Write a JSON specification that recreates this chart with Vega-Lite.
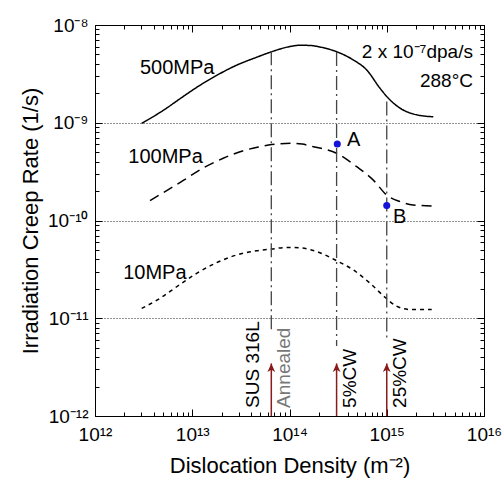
{
  "$schema": "https://vega.github.io/schema/vega-lite/v6.json",
  "width": 389,
  "height": 391,
  "autosize": {"type": "none"},
  "padding": {"left": 95, "top": 25, "right": 20, "bottom": 64},
  "config": {
    "font": "Liberation Sans",
    "view": {"stroke": "black", "strokeWidth": 1},
    "axis": {"domainColor": "black", "tickColor": "black", "labelColor": "black", "titleColor": "black", "labelFont": "Liberation Sans", "titleFont": "Liberation Sans", "titleFontWeight": "normal"}
  },
  "datasets": {
    "curves": [
      {"series": "500MPa", "x": 3.02e12, "y": 9.86e-10},
      {"series": "500MPa", "x": 5.04e12, "y": 1.34e-9},
      {"series": "500MPa", "x": 7.48e12, "y": 1.76e-9},
      {"series": "500MPa", "x": 1.11e13, "y": 2.30e-9},
      {"series": "500MPa", "x": 1.78e13, "y": 3.05e-9},
      {"series": "500MPa", "x": 2.86e13, "y": 3.88e-9},
      {"series": "500MPa", "x": 4.60e13, "y": 4.68e-9},
      {"series": "500MPa", "x": 6.56e13, "y": 5.33e-9},
      {"series": "500MPa", "x": 1.01e14, "y": 6.02e-9},
      {"series": "500MPa", "x": 1.28e14, "y": 6.20e-9},
      {"series": "500MPa", "x": 1.63e14, "y": 6.18e-9},
      {"series": "500MPa", "x": 2.06e14, "y": 5.95e-9},
      {"series": "500MPa", "x": 3.05e14, "y": 5.33e-9},
      {"series": "500MPa", "x": 4.53e14, "y": 4.39e-9},
      {"series": "500MPa", "x": 6.22e14, "y": 3.47e-9},
      {"series": "500MPa", "x": 8.53e14, "y": 2.25e-9},
      {"series": "500MPa", "x": 1.04e15, "y": 1.78e-9},
      {"series": "500MPa", "x": 1.37e15, "y": 1.41e-9},
      {"series": "500MPa", "x": 1.87e15, "y": 1.23e-9},
      {"series": "500MPa", "x": 3.01e15, "y": 1.15e-9},
      {"series": "100MPa", "x": 3.68e12, "y": 1.60e-10},
      {"series": "100MPa", "x": 5.46e12, "y": 2.02e-10},
      {"series": "100MPa", "x": 8.09e12, "y": 2.57e-10},
      {"series": "100MPa", "x": 1.30e13, "y": 3.45e-10},
      {"series": "100MPa", "x": 2.08e13, "y": 4.33e-10},
      {"series": "100MPa", "x": 3.35e13, "y": 5.18e-10},
      {"series": "100MPa", "x": 4.98e13, "y": 5.69e-10},
      {"series": "100MPa", "x": 6.56e13, "y": 6.00e-10},
      {"series": "100MPa", "x": 1.09e14, "y": 6.17e-10},
      {"series": "100MPa", "x": 1.35e14, "y": 6.05e-10},
      {"series": "100MPa", "x": 1.76e14, "y": 5.69e-10},
      {"series": "100MPa", "x": 3.05e14, "y": 4.88e-10},
      {"series": "100MPa", "x": 4.91e14, "y": 3.55e-10},
      {"series": "100MPa", "x": 7.28e14, "y": 2.59e-10},
      {"series": "100MPa", "x": 1.0e15, "y": 1.82e-10},
      {"series": "100MPa", "x": 1.37e15, "y": 1.56e-10},
      {"series": "100MPa", "x": 1.87e15, "y": 1.44e-10},
      {"series": "100MPa", "x": 3.01e15, "y": 1.41e-10},
      {"series": "10MPa", "x": 3.02e12, "y": 1.26e-11},
      {"series": "10MPa", "x": 4.66e12, "y": 1.60e-11},
      {"series": "10MPa", "x": 6.92e12, "y": 2.10e-11},
      {"series": "10MPa", "x": 1.11e13, "y": 2.88e-11},
      {"series": "10MPa", "x": 1.78e13, "y": 3.70e-11},
      {"series": "10MPa", "x": 2.86e13, "y": 4.44e-11},
      {"series": "10MPa", "x": 4.60e13, "y": 4.91e-11},
      {"series": "10MPa", "x": 6.56e13, "y": 5.11e-11},
      {"series": "10MPa", "x": 9.35e13, "y": 5.30e-11},
      {"series": "10MPa", "x": 1.28e14, "y": 5.25e-11},
      {"series": "10MPa", "x": 1.91e14, "y": 4.80e-11},
      {"series": "10MPa", "x": 3.05e14, "y": 3.88e-11},
      {"series": "10MPa", "x": 4.53e14, "y": 3.12e-11},
      {"series": "10MPa", "x": 6.73e14, "y": 2.28e-11},
      {"series": "10MPa", "x": 9.59e14, "y": 1.64e-11},
      {"series": "10MPa", "x": 1.26e15, "y": 1.33e-11},
      {"series": "10MPa", "x": 1.73e15, "y": 1.23e-11},
      {"series": "10MPa", "x": 2.90e15, "y": 1.23e-11}
    ],
    "vlines": [
      {"name": "SUS 316L Annealed", "x": 6.5e13, "top": 5.4e-9, "bottom": 7.6e-12},
      {"name": "5%CW", "x": 3.05e14, "top": 5.3e-9, "bottom": 5.2e-12},
      {"name": "25%CW", "x": 1.0e15, "top": 1.65e-9, "bottom": 6.0e-12}
    ],
    "arrows": [
      {"name": "SUS 316L Annealed", "x": 6.5e13, "base": 1e-12, "tip": 3.45e-12},
      {"name": "5%CW", "x": 3.05e14, "base": 1e-12, "tip": 3.45e-12},
      {"name": "25%CW", "x": 1.0e15, "base": 1e-12, "tip": 3.45e-12}
    ],
    "points": [
      {"name": "A", "x": 3.1e14, "y": 6.07e-10},
      {"name": "B", "x": 1.0e15, "y": 1.42e-10}
    ]
  },
  "layer": [
    {
      "data": {"name": "curves"},
      "mark": {"type": "line", "interpolate": "monotone", "strokeWidth": 1.5, "color": "black"},
      "encoding": {
        "x": {"field": "x", "type": "quantitative",
          "scale": {"type": "log", "domain": [1e12, 1e16], "nice": false},
          "axis": {"orient": "bottom", "title": "Dislocation Density  (m⁻²)", "titleFontSize": 22, "titlePadding": 8,
            "tickCount": 10, "labelFontSize": 19, "labelFlush": false, "labelOverlap": false, "labelPadding": 16, "grid": false,
            "tickSize": {"condition": {"test": "abs(log(datum.value)/LN10 - round(log(datum.value)/LN10)) < 0.000001", "value": -7}, "value": -4},
            "labelExpr": "datum.value == 1e12 ? '10¹²' : datum.value == 1e13 ? '10¹³' : datum.value == 1e14 ? '10¹⁴' : datum.value == 1e15 ? '10¹⁵' : datum.value == 1e16 ? '10¹⁶' : ''"}},
        "y": {"field": "y", "type": "quantitative",
          "scale": {"type": "log", "domain": [1e-12, 1e-8], "nice": false},
          "axis": {"orient": "left", "title": "Irradiation Creep Rate (1/s)", "titleFontSize": 22, "titlePadding": 5,
            "tickCount": 10, "labelFontSize": 19, "labelFlush": false, "labelOverlap": false, "labelPadding": 14,
            "grid": true, "gridDash": [1, 2], "gridColor": "#222",
            "gridOpacity": {"condition": {"test": "abs(log(datum.value)/LN10 - round(log(datum.value)/LN10)) < 0.000001", "value": 1}, "value": 0},
            "tickSize": {"condition": {"test": "abs(log(datum.value)/LN10 - round(log(datum.value)/LN10)) < 0.000001", "value": -7}, "value": -4},
            "labelExpr": "datum.value == 1e-8 ? '10⁻⁸' : datum.value == 1e-9 ? '10⁻⁹' : datum.value == 1e-10 ? '10⁻¹⁰' : datum.value == 1e-11 ? '10⁻¹¹' : datum.value == 1e-12 ? '10⁻¹²' : ''"}},
        "strokeDash": {"field": "series", "type": "nominal",
          "scale": {"domain": ["500MPa", "100MPa", "10MPa"], "range": [[1, 0], [10, 6], [4, 4]]},
          "legend": null},
        "detail": {"field": "series"}
      }
    },
    {
      "data": {"name": "vlines"},
      "mark": {"type": "rule", "color": "#444", "strokeWidth": 1.3, "strokeDash": [14, 4, 2, 4]},
      "encoding": {
        "x": {"field": "x", "type": "quantitative",
          "scale": {"type": "log", "domain": [1e12, 1e16], "nice": false},
          "axis": {"orient": "top", "title": null, "labels": false, "tickCount": 10, "grid": false,
            "tickSize": {"condition": {"test": "abs(log(datum.value)/LN10 - round(log(datum.value)/LN10)) < 0.000001", "value": -7}, "value": -4}}},
        "y": {"field": "top", "type": "quantitative",
          "scale": {"type": "log", "domain": [1e-12, 1e-8], "nice": false},
          "axis": {"orient": "right", "title": null, "labels": false, "tickCount": 10, "grid": false,
            "tickSize": {"condition": {"test": "abs(log(datum.value)/LN10 - round(log(datum.value)/LN10)) < 0.000001", "value": -7}, "value": -4}}},
        "y2": {"field": "bottom"}
      }
    },
    {
      "data": {"name": "arrows"},
      "mark": {"type": "rule", "color": "#8B1A1A", "strokeWidth": 1.5},
      "encoding": {
        "x": {"field": "x", "type": "quantitative", "axis": null},
        "y": {"field": "base", "type": "quantitative", "axis": null},
        "y2": {"field": "tip"}
      }
    },
    {
      "data": {"name": "arrows"},
      "mark": {"type": "point", "shape": "M0,0L0.55,1.2L0,0.9L-0.55,1.2Z", "filled": true, "color": "#8B1A1A", "size": 200, "opacity": 1},
      "encoding": {
        "x": {"field": "x", "type": "quantitative", "axis": null},
        "y": {"field": "tip", "type": "quantitative", "axis": null}
      }
    },
    {
      "data": {"name": "points"},
      "mark": {"type": "point", "shape": "circle", "filled": true, "color": "#1414D8", "size": 50, "opacity": 1},
      "encoding": {
        "x": {"field": "x", "type": "quantitative", "axis": null},
        "y": {"field": "y", "type": "quantitative", "axis": null}
      }
    },
    {
      "data": {"values": [
        {"text": "500MPa", "x": 2.9e12, "y": 3.6e-9},
        {"text": "100MPa", "x": 2.2e12, "y": 4.45e-10},
        {"text": "10MPa", "x": 1.95e12, "y": 2.9e-11},
        {"text": "A", "x": 3.9e14, "y": 6.7e-10},
        {"text": "B", "x": 1.16e15, "y": 1.09e-10}
      ]},
      "mark": {"type": "text", "align": "left", "baseline": "middle", "fontSize": 20, "color": "black"},
      "encoding": {
        "x": {"field": "x", "type": "quantitative", "axis": null},
        "y": {"field": "y", "type": "quantitative", "axis": null},
        "text": {"field": "text"}
      }
    },
    {
      "data": {"values": [
        {"text": "2 x 10⁻⁷dpa/s", "x": 7.7e15, "y": 5.3e-9},
        {"text": "288°C", "x": 7.7e15, "y": 2.67e-9}
      ]},
      "mark": {"type": "text", "align": "right", "baseline": "middle", "fontSize": 19, "color": "black"},
      "encoding": {
        "x": {"field": "x", "type": "quantitative", "axis": null},
        "y": {"field": "y", "type": "quantitative", "axis": null},
        "text": {"field": "text"}
      }
    },
    {
      "data": {"values": [
        {"text": "SUS 316L", "x": 4.2e13, "y": 1.21e-12, "tone": "black"},
        {"text": "Annealed", "x": 8.8e13, "y": 1.21e-12, "tone": "gray"},
        {"text": "5%CW", "x": 4.2e14, "y": 1.21e-12, "tone": "black"},
        {"text": "25%CW", "x": 1.37e15, "y": 1.21e-12, "tone": "black"}
      ]},
      "mark": {"type": "text", "align": "left", "baseline": "middle", "angle": 270, "fontSize": 19},
      "encoding": {
        "x": {"field": "x", "type": "quantitative", "axis": null},
        "y": {"field": "y", "type": "quantitative", "axis": null},
        "text": {"field": "text"},
        "color": {"field": "tone", "type": "nominal", "scale": {"domain": ["black", "gray"], "range": ["#000000", "#777777"]}, "legend": null}
      }
    }
  ],
  "resolve": {"axis": {"x": "independent", "y": "independent"}}
}
